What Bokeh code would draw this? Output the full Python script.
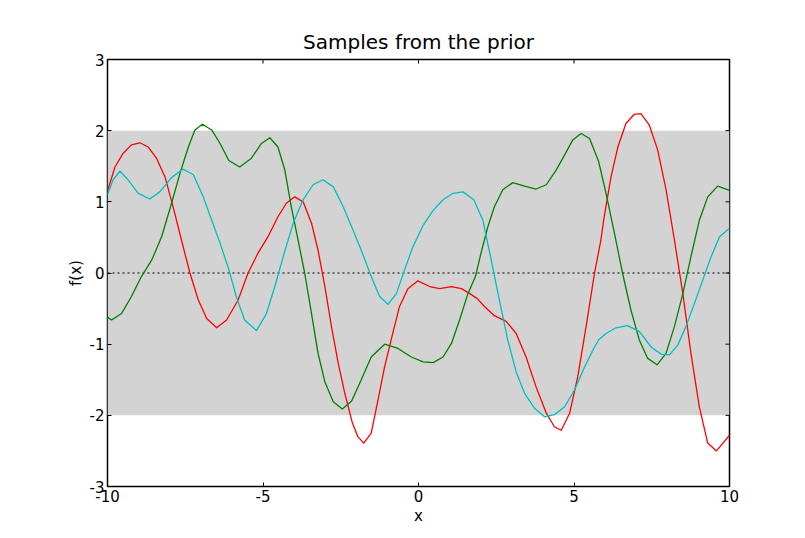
import math
from bokeh.plotting import figure
from bokeh.models import FixedTicker, Range1d
from bokeh.embed import file_html
from bokeh.resources import INLINE

# ---- data ----
x_limits = [-10, 10]
y_limits = [-3, 3]
band_lo = -2
band_hi = 2
zero_level = [0, 0]

x_ticks = [-10, -5, 0, 5, 10]
y_ticks = [-3, -2, -1, 0, 1, 2, 3]

red_x = [-10.0, -9.76, -9.50, -9.23, -8.96, -8.69, -8.42, -8.15, -7.89, -7.62, -7.35, -7.08,
         -6.81, -6.49, -6.17, -5.80, -5.48, -5.16, -4.84, -4.52, -4.25, -3.98, -3.71, -3.44,
         -3.23, -3.01, -2.80, -2.58, -2.37, -2.13, -1.95, -1.76, -1.52, -1.30, -1.09, -0.88,
         -0.61, -0.34, -0.02, 0.36, 0.68, 1.06, 1.38, 1.65, 1.89, 2.12, 2.44, 2.82, 3.14,
         3.46, 3.78, 4.11, 4.37, 4.59, 4.86, 5.12, 5.39, 5.66, 5.86, 5.97, 6.19, 6.41, 6.67,
         6.94, 7.15, 7.42, 7.69, 7.96, 8.23, 8.50, 8.76, 9.03, 9.30, 9.58, 9.79, 10.0]
red_y = [1.15, 1.49, 1.68, 1.80, 1.83, 1.77, 1.61, 1.35, 0.93, 0.46, 0.0, -0.38,
         -0.64, -0.77, -0.66, -0.38, 0.0, 0.28, 0.51, 0.79, 0.98, 1.07, 1.00, 0.70,
         0.32, -0.19, -0.75, -1.27, -1.69, -2.10, -2.30, -2.39, -2.25, -1.78, -1.32, -0.94,
         -0.47, -0.22, -0.11, -0.19, -0.22, -0.19, -0.22, -0.29, -0.36, -0.47, -0.60, -0.68, -0.85,
         -1.18, -1.60, -1.97, -2.16, -2.21, -1.97, -1.46, -0.75, 0.0, 0.45, 0.79, 1.35, 1.77, 2.10,
         2.23, 2.24, 2.08, 1.73, 1.17, 0.46, -0.29, -1.13, -1.88, -2.39, -2.50, -2.39, -2.28]

green_x = [-10.0, -9.87, -9.55, -9.23, -8.91, -8.58, -8.26, -7.94, -7.67, -7.40, -7.19, -6.95,
           -6.65, -6.38, -6.10, -5.75, -5.38, -5.05, -4.78, -4.52, -4.30, -4.09, -3.87, -3.66,
           -3.44, -3.23, -3.01, -2.74, -2.45, -2.15, -1.84, -1.52, -1.09, -0.66, -0.23, 0.15,
           0.47, 0.79, 1.06, 1.32, 1.59, 1.83, 2.01, 2.23, 2.44, 2.71, 3.03, 3.41, 3.78, 4.11,
           4.43, 4.70, 4.96, 5.23, 5.50, 5.79, 6.03, 6.30, 6.56, 6.83, 7.10, 7.37, 7.67, 7.96,
           8.23, 8.50, 8.76, 9.03, 9.30, 9.62, 10.0]
green_y = [-0.62, -0.66, -0.57, -0.33, -0.05, 0.18, 0.51, 0.98, 1.40, 1.77, 2.01, 2.09,
           2.01, 1.82, 1.58, 1.49, 1.61, 1.82, 1.90, 1.77, 1.45, 0.93, 0.46, 0.0,
           -0.57, -1.13, -1.53, -1.81, -1.91, -1.80, -1.50, -1.18, -1.00, -1.06, -1.18, -1.25,
           -1.26, -1.18, -0.99, -0.66, -0.29, -0.05, 0.28, 0.65, 0.93, 1.17, 1.27, 1.22, 1.18, 1.24,
           1.45, 1.66, 1.87, 1.96, 1.89, 1.57, 1.12, 0.56, 0.0, -0.52, -0.94, -1.20, -1.29, -1.13,
           -0.75, -0.29, 0.23, 0.74, 1.07, 1.22, 1.16]

cyan_x = [-10.0, -9.82, -9.60, -9.34, -9.01, -8.64, -8.32, -7.94, -7.57, -7.24, -6.92, -6.65,
          -6.38, -6.08, -5.86, -5.59, -5.21, -4.89, -4.62, -4.35, -4.03, -3.71, -3.39, -3.07,
          -2.74, -2.42, -2.13, -1.84, -1.52, -1.25, -0.98, -0.71, -0.45, -0.18, 0.15, 0.47,
          0.79, 1.11, 1.43, 1.78, 2.07, 2.34, 2.60, 2.87, 3.14, 3.41, 3.73, 4.05, 4.37, 4.70,
          5.02, 5.34, 5.66, 5.81, 6.03, 6.35, 6.72, 7.10, 7.48, 7.80, 8.07, 8.34, 8.60, 8.87,
          9.14, 9.41, 9.68, 10.0]
cyan_y = [1.10, 1.31, 1.43, 1.31, 1.12, 1.04, 1.14, 1.34, 1.46, 1.38, 1.07, 0.74,
          0.42, 0.02, -0.33, -0.66, -0.81, -0.57, -0.19, 0.23, 0.70, 1.03, 1.24, 1.31,
          1.21, 0.93, 0.63, 0.32, -0.05, -0.33, -0.44, -0.29, 0.04, 0.37, 0.67, 0.88,
          1.03, 1.12, 1.14, 1.03, 0.74, 0.18, -0.38, -0.94, -1.39, -1.69, -1.90, -2.02, -1.99, -1.88,
          -1.64, -1.32, -1.04, -0.93, -0.85, -0.77, -0.74, -0.82, -1.04, -1.14, -1.15, -1.01, -0.75, -0.43,
          -0.10, 0.23, 0.51, 0.63]

FONT = "DejaVu Sans"

p = figure(width=797, height=530, output_backend="svg", toolbar_location=None,
           x_range=Range1d(*x_limits), y_range=Range1d(*y_limits),
           title="Samples from the prior",
           min_border_left=107, min_border_right=68, min_border_top=59, min_border_bottom=44)

p.title.align = "center"
p.title.text_font = FONT
p.title.text_font_size = "20px"
p.title.text_font_style = "normal"
p.title.text_color = "black"
p.title.standoff = 12

p.grid.visible = False
p.background_fill_color = "white"
p.border_fill_color = "white"
p.outline_line_color = "black"
p.outline_line_width = 1.5
p.outline_line_alpha = 1

# grey +/- 2 band
p.varea(x=x_limits, y1=[band_lo, band_lo], y2=[band_hi, band_hi], fill_color="#d3d3d3")
# dotted mean line
p.line(x_limits, zero_level, line_color="#444444", line_width=1.5, line_dash="2 3")

# samples
for xs, ys, col in ((red_x, red_y, "#ff0000"), (green_x, green_y, "#008000"),
                    (cyan_x, cyan_y, "#00bfbf")):
    p.line(xs, ys, line_color=col, line_width=1.3, line_join="round")

# inward ticks on the top and right edges
p.ray(x=x_ticks, y=[y_limits[1]] * len(x_ticks), length=4, length_units="screen",
      angle=-math.pi / 2, line_color="black", line_width=1)
p.ray(x=[x_limits[1]] * len(y_ticks), y=y_ticks, length=4, length_units="screen",
      angle=math.pi, line_color="black", line_width=1)

def style_axis(ax, ticks):
    ax.ticker = FixedTicker(ticks=ticks)
    ax.major_label_overrides = {t: str(t) for t in ticks}
    ax.axis_line_color = None
    ax.major_tick_in = 4
    ax.major_tick_out = 0
    ax.major_tick_line_color = "black"
    ax.minor_tick_line_color = None
    ax.major_label_text_font = FONT
    ax.major_label_text_font_size = "15px"
    ax.major_label_text_color = "black"
    ax.major_label_standoff = 3
    ax.axis_label_text_font = FONT
    ax.axis_label_text_font_size = "15px"
    ax.axis_label_text_font_style = "normal"
    ax.axis_label_text_color = "black"
    ax.axis_label_standoff = 2

style_axis(p.xaxis[0], x_ticks)
style_axis(p.yaxis[0], y_ticks)
p.xaxis[0].axis_label = "x"
p.yaxis[0].axis_label = "f(x)"
p.yaxis[0].axis_label_standoff = 2

open("out.html", "w").write(file_html(p, INLINE))
